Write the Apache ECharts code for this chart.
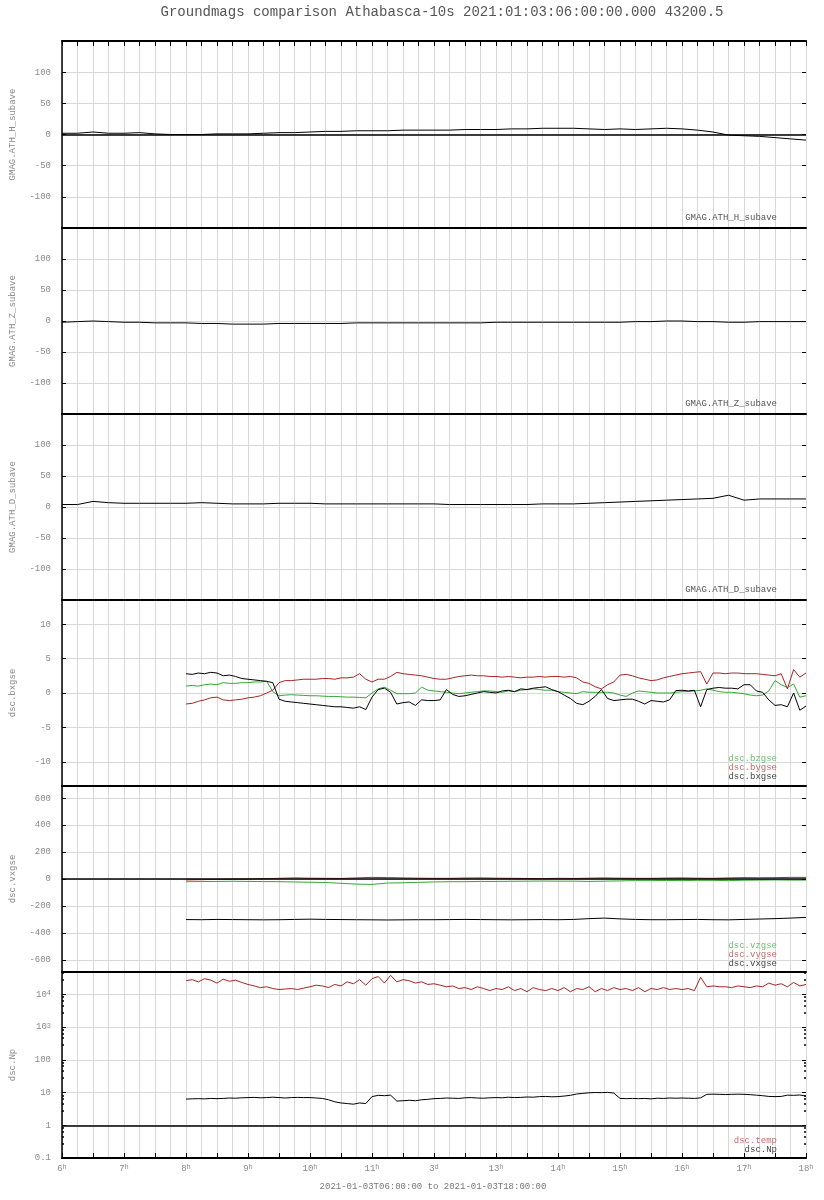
<!DOCTYPE html>
<html><head><meta charset="utf-8">
<script src="https://cdn.jsdelivr.net/npm/echarts@6/dist/echarts.min.js"></script>
<style>html,body{margin:0;padding:0;background:#fff}#c{width:824px;height:1200px}</style>
</head><body><div id="c"></div>
<script>
// ---------------- DATA ----------------
const titleText = 'Groundmags comparison Athabasca-10s 2021:01:03:06:00:00.000 43200.5';
const rangeText = '2021-01-03T06:00:00 to 2021-01-03T18:00:00';
const xTickHours = [6,7,8,9,10,11,12,13,14,15,16,17,18];
const xTickLabels = ['6|h','7|h','8|h','9|h','10|h','11|h','3|d','13|h','14|h','15|h','16|h','17|h','18|h'];

// ground magnetometer: 6h..18h, every 15 min
const gmagStart = 6, gmagStep = 0.25;
const athH = [2,2,4,2,2,3,1,0,0,0, 1,1,1,2,3,3,4,5,5,6, 6,6,7,7,7,7,8,8,8,9, 9,10,10,10,9,8,9,8,9,10, 9,7,4,-1,-2,-3,-5,-7,-9];
const athZ = [-2,-1,0,-1,-2,-2,-3,-3,-3,-4, -4,-5,-5,-5,-4,-4,-4,-4,-4,-3, -3,-3,-3,-3,-3,-3,-3,-3,-2,-2, -2,-2,-2,-2,-2,-2,-2,-1,-1,0, 0,-1,-1,-2,-2,-1,-1,-1,-1];
const athD = [4,4,9,7,6,6,6,6,6,7, 6,5,5,5,6,6,6,5,5,5, 5,5,5,5,5,4,4,4,4,4, 4,5,5,5,6,7,8,9,10,11, 12,13,14,19,11,13,13,13,13];

// DSCOVR magnetic field: 8h..18h, every 6 min
const bStart = 8, bStep = 0.1;
const bxgse = [2.8,2.7,2.9,2.8,3.0,2.9,2.5,2.6,2.4,2.1,
  2.0,1.9,1.8,1.7,1.5,-0.9,-1.2,-1.3,-1.4,-1.5,
  -1.6,-1.7,-1.8,-1.9,-2.0,-2.0,-2.1,-2.2,-2.0,-2.4,
  -0.6,0.5,0.7,0.1,-1.6,-1.4,-1.3,-1.8,-1.0,-1.1,
  -1.1,-1.0,0.5,-0.2,-0.5,-0.4,-0.2,0.0,0.2,0.1,
  0.0,0.3,0.4,0.2,0.6,0.5,0.7,0.8,0.9,0.5,
  0.2,-0.3,-0.8,-1.5,-1.7,-1.2,-0.5,0.5,-0.8,-1.1,
  -1.0,-0.9,-0.9,-1.2,-1.6,-1.1,-1.2,-1.3,-1.0,0.35,
  0.4,0.3,0.4,-2.0,0.5,0.7,0.8,0.7,0.7,0.6,
  1.2,1.2,0.3,0.1,-1.0,-1.8,-1.7,-2.0,0.0,-2.5,
  -1.9];
const bygse = [-1.6,-1.5,-1.2,-1.0,-0.7,-0.6,-1.0,-1.1,-1.0,-0.9,
  -0.7,-0.6,-0.4,0.0,0.4,1.5,1.8,1.8,1.9,2.0,
  2.0,2.0,2.1,2.1,2.0,2.2,2.2,2.3,2.8,2.0,
  1.6,2.0,2.0,2.4,3.0,2.8,2.7,2.6,2.5,2.3,
  2.1,2.0,2.0,2.2,2.4,2.5,2.6,2.5,2.5,2.4,
  2.4,2.3,2.4,2.3,2.2,2.3,2.3,2.4,2.3,2.4,
  2.4,2.3,2.4,2.2,1.6,1.4,0.9,0.6,1.2,1.6,
  2.6,2.7,2.5,2.2,2.0,1.8,1.9,2.2,2.4,2.6,
  2.8,2.9,3.0,3.1,1.3,2.9,2.9,2.8,2.9,2.9,
  2.8,2.8,2.8,2.7,2.6,2.5,2.8,0.6,3.4,2.3,
  2.9];
const bzgse = [1.0,1.1,1.0,1.2,1.3,1.2,1.5,1.4,1.4,1.5,
  1.5,1.6,1.6,1.7,0.2,-0.4,-0.3,-0.25,-0.3,-0.35,
  -0.4,-0.4,-0.45,-0.5,-0.5,-0.55,-0.6,-0.6,-0.65,-0.7,
  0.0,0.6,0.85,0.4,-0.1,-0.1,-0.1,0.0,0.85,0.4,
  0.3,0.2,0.1,0.0,-0.1,0.0,0.1,0.2,0.3,0.3,
  0.2,0.1,0.3,0.2,0.4,0.5,0.6,0.5,0.4,0.4,
  0.2,0.1,0.0,-0.1,0.2,0.1,0.1,0.1,0.1,0.0,
  -0.3,-0.5,0.0,0.3,0.2,0.1,0.0,0.0,0.0,0.1,
  0.2,0.2,0.3,0.4,0.6,0.4,0.2,0.1,0.1,0.0,
  -0.1,-0.3,-0.4,-0.3,0.3,1.8,1.2,0.8,1.3,-0.6,
  -0.4];

// DSCOVR velocity: 8h..18h, every 15 min
const vStart = 8, vStep = 0.25;
const vxgse = [-301,-302,-300,-301,-302,-303,-302,-300,-298,-300,
  -301,-302,-303,-304,-303,-302,-302,-301,-300,-301,
  -302,-303,-302,-301,-302,-300,-294,-290,-296,-300,
  -302,-302,-301,-300,-302,-303,-300,-297,-294,-290,
  -285];
const vygse = [-7,-5,-3,-2,0,2,5,8,6,5,
  4,8,12,10,8,6,5,5,7,8,
  6,5,4,3,5,4,6,8,6,5,
  5,7,8,6,5,8,10,9,10,12,
  12];
const vzgse = [-20,-19,-18,-17,-18,-19,-20,-22,-24,-26,
  -32,-38,-40,-30,-28,-25,-22,-20,-20,-18,
  -18,-17,-16,-15,-16,-16,-18,-16,-14,-12,
  -12,-11,-12,-10,-10,-12,-9,-8,-7,-8,
  -8];

// DSCOVR plasma: 8h..18h, every 6 min
const pStart = 8, pStep = 0.1;
const temp = [26000,28000,24000,30000,27000,22000,29000,25000,27000,23000,
  20000,18000,16000,17000,15000,14000,14500,15000,14000,15500,
  17000,19000,18000,16000,20000,18000,24000,21000,28000,19000,
  30000,35000,22000,38000,24000,28000,26000,22000,24000,20000,
  21000,19000,17000,18000,15000,16000,14000,17000,15000,13000,
  15000,14000,17000,13000,15000,12000,16000,14000,13000,15000,
  13000,16000,12000,15000,14000,17000,12000,15000,13000,16000,
  14000,15000,13000,16000,12000,15000,14000,16000,14000,15000,
  14000,15000,13000,33000,17000,18000,17000,17000,16000,18000,
  17000,16000,18000,17000,22000,19000,21000,17000,23000,18000,
  20000];
const np = [6.3,6.4,6.5,6.4,6.6,6.5,6.6,6.8,6.7,6.9,
  7.0,7.1,6.9,7.0,7.2,7.0,6.8,7.0,7.1,7.0,
  7.0,6.8,6.6,6.0,5.2,4.8,4.6,4.4,4.8,4.6,
  7.5,8.2,8.0,8.3,5.5,5.6,5.8,5.6,6.0,6.2,
  6.5,6.6,6.8,6.7,6.6,6.9,7.0,6.8,6.7,6.9,
  7.0,6.9,7.2,7.0,7.1,7.3,7.2,7.5,7.6,7.4,
  7.5,7.8,8.2,9.0,9.4,9.8,10.0,9.9,10.1,9.6,
  6.6,6.5,6.6,6.5,6.6,6.4,6.7,6.6,6.8,6.7,
  6.8,6.7,6.6,6.9,8.8,8.9,8.8,8.7,8.8,8.9,
  8.8,8.6,8.3,8.0,7.6,7.5,7.6,8.3,8.2,8.4,
  7.8];

const yNames = ['GMAG.ATH_H_subave','GMAG.ATH_Z_subave','GMAG.ATH_D_subave','dsc.bxgse','dsc.vxgse','dsc.Np'];

// ---------------- STYLE / LAYOUT ----------------
const FONT = "'Liberation Mono','DejaVu Sans Mono',monospace";
const GRIDC = '#d8d8d8';
const LABC = '#8a8a8a';
const C_BLACK = '#000000', C_RED = '#a82424', C_GREEN = '#35a835';
const tops = [41, 228, 414, 600, 786, 972];

function pairs(start, step, arr) {
  return arr.map((v, i) => [Math.round((start + i * step) * 1000) / 1000, v]);
}

const grids = tops.map((t, i) => ({ left: 61, right: 18, top: t, height: i === 0 ? 187 : 186 }));

const richX = {
  n: { fontFamily: FONT, fontSize: 9, color: LABC },
  s: { fontFamily: FONT, fontSize: 7, color: LABC, verticalAlign: 'top', lineHeight: 8 }
};

const xAxes = tops.map((t, i) => ({
  type: 'value', gridIndex: i, min: 6, max: 18, interval: 0.5,
  axisLine: { show: true, onZero: false, lineStyle: { color: '#000', width: 2 } },
  axisTick: { show: i === 5, inside: true, length: 5, lineStyle: { color: '#000', width: 1 } },
  axisLabel: {
    show: i === 5, margin: 6, rich: richX,
    formatter: v => {
      const k = xTickHours.indexOf(Math.round(v * 100) / 100);
      if (k < 0) return '';
      const p = xTickLabels[k].split('|');
      return '{n|' + p[0] + '}{s|' + p[1] + '}';
    }
  },
  splitLine: { show: true, lineStyle: { color: GRIDC, width: 1 } },
  minorTick: { show: false, splitNumber: 2 },
  minorSplitLine: { show: true, lineStyle: { color: GRIDC, width: 1 } }
}));
xAxes.push({
  type: 'value', gridIndex: 0, position: 'top', min: 6, max: 18, interval: 0.25,
  axisLine: { show: true, onZero: false, lineStyle: { color: '#000', width: 2 } },
  axisTick: { show: true, inside: true, length: 5, lineStyle: { color: '#000' } },
  axisLabel: { show: false }, splitLine: { show: false }
});

const yRanges = [
  { type: 'value', min: -150, max: 150, interval: 50 },
  { type: 'value', min: -150, max: 150, interval: 50 },
  { type: 'value', min: -150, max: 150, interval: 50 },
  { type: 'value', min: -13.5, max: 13.5, splitNumber: 5 },
  { type: 'value', min: -690, max: 690, splitNumber: 7 },
  { type: 'log', min: 0.1, max: 48000, logBase: 10 }
];

function logFmt(v) {
  const e = Math.round(Math.log10(v));
  if (Math.abs(v - Math.pow(10, e)) > Math.pow(10, e) * 0.01) return '';
  if (e >= 3) return '{n|10}{s|' + e + '}';
  return '{n|' + parseFloat(v.toPrecision(3)) + '}';
}

const yAxes = [];
yRanges.forEach((r, i) => {
  const isLog = r.type === 'log';
  yAxes.push(Object.assign({}, r, {
    gridIndex: i, position: 'left',
    name: yNames[i], nameLocation: 'middle', nameGap: 45, nameRotate: 90,
    nameTextStyle: { fontFamily: FONT, fontSize: 9, color: LABC },
    axisLine: { show: true, onZero: false, lineStyle: { color: '#000', width: 1.5 } },
    axisTick: { show: true, inside: true, length: 4, lineStyle: { color: '#000' } },
    minorTick: { show: isLog, splitNumber: 5, length: 2, lineStyle: { color: '#000', width: 1.5 } },
    axisLabel: {
      show: true, margin: 11, showMinLabel: isLog, showMaxLabel: false,
      fontFamily: FONT, fontSize: 9, color: LABC,
      rich: richX,
      formatter: isLog ? logFmt : (v => '{n|' + v + '}')
    },
    splitLine: { show: true, lineStyle: { color: GRIDC, width: 1 } }
  }));
});
yRanges.forEach((r, i) => {
  const isLog = r.type === 'log';
  yAxes.push(Object.assign({}, r, {
    gridIndex: i, position: 'right',
    axisLine: { show: false },
    axisTick: { show: true, inside: true, length: 4, lineStyle: { color: '#000' } },
    minorTick: { show: isLog, splitNumber: 5, length: 2, lineStyle: { color: '#000', width: 1.5 } },
    axisLabel: { show: false }, splitLine: { show: false }
  }));
});

function line(name, xi, data, color, mark) {
  const s = {
    name, type: 'line', xAxisIndex: xi, yAxisIndex: xi, data,
    showSymbol: false, symbol: 'none', animation: false, silent: true,
    lineStyle: { color, width: 1 }, itemStyle: { color }, z: 3
  };
  if (mark !== undefined) {
    s.markLine = {
      silent: true, symbol: 'none', animation: false, label: { show: false },
      lineStyle: { color: '#000', width: 1.5, type: 'solid' },
      data: [{ yAxis: mark }]
    };
  }
  return s;
}

const series = [
  line('GMAG.ATH_H_subave', 0, pairs(gmagStart, gmagStep, athH), C_BLACK, 0),
  line('GMAG.ATH_Z_subave', 1, pairs(gmagStart, gmagStep, athZ), C_BLACK),
  line('GMAG.ATH_D_subave', 2, pairs(gmagStart, gmagStep, athD), C_BLACK),
  line('dsc.bzgse', 3, pairs(bStart, bStep, bzgse), C_GREEN),
  line('dsc.bygse', 3, pairs(bStart, bStep, bygse), C_RED),
  line('dsc.bxgse', 3, pairs(bStart, bStep, bxgse), C_BLACK),
  line('dsc.vzgse', 4, pairs(vStart, vStep, vzgse), C_GREEN, 0),
  line('dsc.vygse', 4, pairs(vStart, vStep, vygse), C_RED),
  line('dsc.vxgse', 4, pairs(vStart, vStep, vxgse), C_BLACK),
  line('dsc.temp', 5, pairs(pStart, pStep, temp), C_RED, 1),
  line('dsc.Np', 5, pairs(pStart, pStep, np), C_BLACK)
];

function txt(text, x, y, color, size, align) {
  return {
    type: 'text', x, y, silent: true, z: 10,
    style: { text, fill: color, fontFamily: FONT, fontSize: size || 9, align: align || 'right', verticalAlign: 'middle' }
  };
}
const legendItems = [
  ['GMAG.ATH_H_subave', 218, '#555'],
  ['GMAG.ATH_Z_subave', 404, '#555'],
  ['GMAG.ATH_D_subave', 590, '#555'],
  ['dsc.bzgse', 758.5, '#6cbf6c'],
  ['dsc.bygse', 768, '#c46a6a'],
  ['dsc.bxgse', 777, '#444'],
  ['dsc.vzgse', 945.5, '#6cbf6c'],
  ['dsc.vygse', 954.5, '#c46a6a'],
  ['dsc.vxgse', 963.5, '#444'],
  ['dsc.temp', 1140.5, '#c46a6a'],
  ['dsc.Np', 1149.5, '#444']
];
const graphics = legendItems.map(l => txt(l[0], 777, l[1], l[2], 9, 'right'));
graphics.push(txt(titleText, 442, 12, '#555', 14, 'center'));
graphics.push(txt(rangeText, 433, 1187, '#777', 9, 'center'));

const chart = echarts.init(document.getElementById('c'), null, { renderer: 'canvas' });
chart.setOption({
  backgroundColor: '#fff',
  animation: false,
  grid: grids,
  xAxis: xAxes,
  yAxis: yAxes,
  series,
  graphic: graphics
});
</script>
</body></html>
